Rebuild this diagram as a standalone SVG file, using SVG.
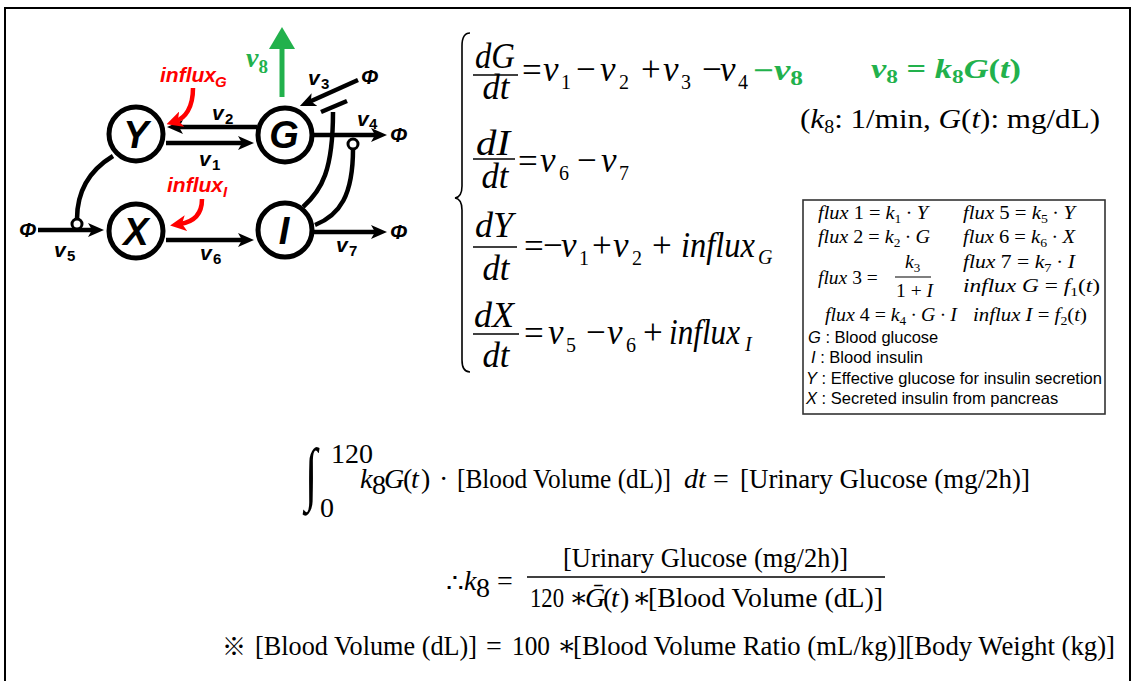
<svg xmlns="http://www.w3.org/2000/svg" width="1133" height="681" viewBox="0 0 1133 681">
<style>
.ln{stroke:#000;stroke-width:4.5;fill:none}
.thin{stroke:#000;stroke-width:1.6;fill:none}
.nd{fill:#fff;stroke:#000;stroke-width:5}
.nt{font-family:"Liberation Sans",Arial,sans-serif;font-weight:bold;font-style:italic;font-size:38px;text-anchor:middle}
.lb{font-family:"Liberation Sans",Arial,sans-serif;font-weight:bold;font-style:italic;font-size:21px}
.sb{font-family:"Liberation Sans",Arial,sans-serif;font-weight:bold;font-size:15px}
.red{fill:#ff0000}
.eq{font-family:"Liberation Serif","Times New Roman","DejaVu Serif",serif;font-size:35px}
.es{font-family:"Liberation Serif","Times New Roman",serif;font-size:20px}
.it{font-style:italic}
.gb{font-family:"Liberation Serif","Times New Roman",serif;font-weight:bold;fill:#22b14c}
.cm{font-family:"Liberation Serif","Times New Roman","DejaVu Serif",serif;font-size:28px}
.lg{font-family:"Liberation Serif","Times New Roman","DejaVu Serif",serif;font-size:19.5px}
.ls{font-family:"Liberation Sans",Arial,sans-serif;font-size:16.5px}
</style>
<defs>
<marker id="ah" viewBox="0 0 16 14" refX="6" refY="7" markerWidth="16" markerHeight="14" markerUnits="userSpaceOnUse" orient="auto"><path d="M0,0 L16,7 L0,14 L4,7 z" fill="#000"/></marker>
<marker id="ahr" viewBox="0 0 16 16" refX="6" refY="8" markerWidth="16" markerHeight="16" markerUnits="userSpaceOnUse" orient="auto"><path d="M0,0 L16,8 L0,16 L4,8 z" fill="#ff0000"/></marker>
<marker id="ahg" viewBox="0 0 22 26" refX="2" refY="13" markerWidth="22" markerHeight="26" markerUnits="userSpaceOnUse" orient="auto"><path d="M0,0 L22,13 L0,26 z" fill="#22b14c"/></marker>
</defs>
<rect x="5" y="8" width="1125" height="700" fill="#fff" stroke="#000" stroke-width="2"/>

<g id="connectors">
<path class="ln" d="M257,127 L177,127" marker-end="url(#ah)"/>
<path class="ln" d="M166,143 L244,143" marker-end="url(#ah)"/>
<path class="ln" d="M166,240 L244,240" marker-end="url(#ah)"/>
<path class="ln" d="M38,230 L94,230" marker-end="url(#ah)"/>
<path class="ln" d="M303,207 C322,190 333,170 333,112"/>
<path class="ln" d="M321,112 L347,101" stroke-width="5"/>
<path class="ln" d="M314,135 L377,135" marker-end="url(#ah)"/>
<path class="ln" d="M314,232 L377,232" marker-end="url(#ah)"/>
<path class="ln" d="M358,80 L309,102" marker-end="url(#ah)"/>
<path class="ln" d="M315,225 C340,215 353,195 353,149"/>
<circle cx="353" cy="144" r="5" fill="#fff" stroke="#000" stroke-width="3"/>
<path class="ln" d="M113,156 C90,170 77,190 77,219"/>
<circle cx="77" cy="224" r="5" fill="#fff" stroke="#000" stroke-width="3"/>
<path d="M282,97 L282,47" stroke="#22b14c" stroke-width="5" fill="none" marker-end="url(#ahg)"/>
<path d="M193,88 C193,108 185,118 176,121" stroke="#ff0000" stroke-width="4.5" fill="none" marker-end="url(#ahr)"/>
<path d="M202,199 C202,215 193,222 180,224" stroke="#ff0000" stroke-width="4.5" fill="none" marker-end="url(#ahr)"/>
</g>

<g id="node-Y"><circle class="nd" cx="136" cy="134" r="27"/><text class="nt" x="136" y="148">Y</text></g>
<g id="node-G"><circle class="nd" cx="285" cy="135" r="27"/><text class="nt" x="284" y="148">G</text></g>
<g id="node-X"><circle class="nd" cx="136" cy="231" r="27"/><text class="nt" x="136" y="245">X</text></g>
<g id="node-I"><circle class="nd" cx="285" cy="230" r="27"/><text class="nt" x="284" y="244">I</text></g>

<g id="labels">
<text class="lb" x="19" y="237">Φ</text>
<text class="lb" x="390" y="142">Φ</text>
<text class="lb" x="390" y="239">Φ</text>
<text class="lb" x="361" y="84">Φ</text>
<text class="lb" x="212" y="120">v</text><text class="sb" x="225" y="124">2</text>
<text class="lb" x="199" y="166">v</text><text class="sb" x="212" y="170">1</text>
<text class="lb" x="308" y="85">v</text><text class="sb" x="321" y="89">3</text>
<text class="lb" x="357" y="126">v</text><text class="sb" x="369" y="129">4</text>
<text class="lb" x="54" y="257">v</text><text class="sb" x="67" y="261">5</text>
<text class="lb" x="200" y="260">v</text><text class="sb" x="213" y="264">6</text>
<text class="lb" x="336" y="252">v</text><text class="sb" x="349" y="256">7</text>
<text class="gb" x="246" y="67" font-size="28"><tspan font-style="italic">v</tspan><tspan font-size="19" dy="6">8</tspan></text>
<text class="lb red" x="160" y="82" font-size="19.5">influx</text><text class="sb red" x="215" y="87" font-style="italic" font-size="14">G</text>
<text class="lb red" x="167" y="192" font-size="19">influx</text><text class="sb red" x="223" y="197" font-style="italic" font-size="14">I</text>
</g>

<g id="equations">
<path class="thin" d="M470,33 Q462,33 462,46 L462,186 Q462,197 455,198 Q462,199 462,210 L462,360 Q462,372 470,372"/>
<!-- eq1 -->
<text class="eq it" x="495" y="68" text-anchor="middle" textLength="40" lengthAdjust="spacingAndGlyphs">dG</text>
<line class="thin" x1="473" y1="75" x2="518" y2="75"/>
<text class="eq it" x="496" y="99" text-anchor="middle" textLength="27" lengthAdjust="spacingAndGlyphs">dt</text>
<text class="eq" x="522" y="82">=</text>
<text class="eq it" x="543" y="81">v</text><text class="es" x="561" y="89">1</text>
<text class="eq" x="576" y="81">−</text>
<text class="eq it" x="600" y="81">v</text><text class="es" x="619" y="89">2</text>
<text class="eq" x="641" y="81">+</text>
<text class="eq it" x="663" y="81">v</text><text class="es" x="681" y="89">3</text>
<text class="eq" x="702" y="81">−</text>
<text class="eq it" x="720" y="81">v</text><text class="es" x="738" y="89">4</text>
<text class="gb" x="753" y="80" font-size="29" textLength="50" lengthAdjust="spacingAndGlyphs">−<tspan font-style="italic">v</tspan><tspan font-size="20" dy="5">8</tspan></text>
<!-- eq2 -->
<text class="eq it" x="493" y="155" text-anchor="middle" textLength="34" lengthAdjust="spacingAndGlyphs">dI</text>
<line class="thin" x1="473" y1="159" x2="515" y2="159"/>
<text class="eq it" x="495" y="188" text-anchor="middle" textLength="27" lengthAdjust="spacingAndGlyphs">dt</text>
<text class="eq" x="518" y="173">=</text>
<text class="eq it" x="540" y="172">v</text><text class="es" x="559" y="180">6</text>
<text class="eq" x="577" y="172">−</text>
<text class="eq it" x="601" y="172">v</text><text class="es" x="619" y="180">7</text>
<!-- eq3 -->
<text class="eq it" x="494" y="237" text-anchor="middle" textLength="38" lengthAdjust="spacingAndGlyphs">dY</text>
<line class="thin" x1="473" y1="247" x2="517" y2="247"/>
<text class="eq it" x="496" y="280" text-anchor="middle" textLength="27" lengthAdjust="spacingAndGlyphs">dt</text>
<text class="eq" x="524" y="258">=</text>
<text class="eq" x="543" y="257">−</text>
<text class="eq it" x="561" y="257">v</text><text class="es" x="579" y="265">1</text>
<text class="eq" x="592" y="257">+</text>
<text class="eq it" x="613" y="257">v</text><text class="es" x="632" y="265">2</text>
<text class="eq" x="652" y="257">+</text>
<text class="eq it" x="681" y="257" textLength="74" lengthAdjust="spacingAndGlyphs">influx</text>
<text class="es it" x="758" y="264">G</text>
<!-- eq4 -->
<text class="eq it" x="494" y="327" text-anchor="middle" textLength="40" lengthAdjust="spacingAndGlyphs">dX</text>
<line class="thin" x1="473" y1="334" x2="519" y2="334"/>
<text class="eq it" x="496" y="367" text-anchor="middle" textLength="27" lengthAdjust="spacingAndGlyphs">dt</text>
<text class="eq" x="524" y="345">=</text>
<text class="eq it" x="548" y="344">v</text><text class="es" x="566" y="352">5</text>
<text class="eq" x="586" y="344">−</text>
<text class="eq it" x="607" y="344">v</text><text class="es" x="626" y="352">6</text>
<text class="eq" x="643" y="344">+</text>
<text class="eq it" x="669" y="344" textLength="71" lengthAdjust="spacingAndGlyphs">influx</text>
<text class="es it" x="745" y="351">I</text>
</g>

<g id="v8-def">
<text class="gb" x="871" y="78" font-size="28" textLength="150" lengthAdjust="spacingAndGlyphs"><tspan font-style="italic">v</tspan><tspan font-size="19" dy="5">8</tspan><tspan dy="-5"> = </tspan><tspan font-style="italic">k</tspan><tspan font-size="19" dy="5">8</tspan><tspan dy="-5" font-style="italic">G</tspan>(<tspan font-style="italic">t</tspan>)</text>
<text class="cm" x="800" y="128" font-size="28" textLength="300" lengthAdjust="spacingAndGlyphs">(<tspan class="it">k</tspan><tspan font-size="18" dy="5">8</tspan><tspan dy="-5">: 1/min, </tspan><tspan class="it">G</tspan>(<tspan class="it">t</tspan>): mg/dL)</text>
</g>

<g id="legend">
<rect x="803" y="200" width="302" height="214" fill="#fff" stroke="#333" stroke-width="1.6"/>
<text class="lg" x="818" y="219" textLength="110" lengthAdjust="spacingAndGlyphs"><tspan class="it">flux</tspan> 1 = <tspan class="it">k</tspan><tspan font-size="13" dy="4">1</tspan><tspan dy="-4"> ∙ </tspan><tspan class="it">Y</tspan></text>
<text class="lg" x="963" y="219" textLength="112" lengthAdjust="spacingAndGlyphs"><tspan class="it">flux</tspan> 5 = <tspan class="it">k</tspan><tspan font-size="13" dy="4">5</tspan><tspan dy="-4"> ∙ </tspan><tspan class="it">Y</tspan></text>
<text class="lg" x="818" y="243" textLength="112" lengthAdjust="spacingAndGlyphs"><tspan class="it">flux</tspan> 2 = <tspan class="it">k</tspan><tspan font-size="13" dy="4">2</tspan><tspan dy="-4"> ∙ </tspan><tspan class="it">G</tspan></text>
<text class="lg" x="963" y="243" textLength="112" lengthAdjust="spacingAndGlyphs"><tspan class="it">flux</tspan> 6 = <tspan class="it">k</tspan><tspan font-size="13" dy="4">6</tspan><tspan dy="-4"> ∙ </tspan><tspan class="it">X</tspan></text>
<text class="lg" x="818" y="284"><tspan class="it">flux</tspan> 3 =</text>
<text class="lg" x="905" y="268"><tspan class="it">k</tspan><tspan font-size="13" dy="4">3</tspan></text>
<line x1="895" y1="277" x2="931" y2="277" stroke="#000" stroke-width="1.2"/>
<text class="lg" x="896" y="297">1 + <tspan class="it">I</tspan></text>
<text class="lg" x="963" y="268" textLength="112" lengthAdjust="spacingAndGlyphs"><tspan class="it">flux</tspan> 7 = <tspan class="it">k</tspan><tspan font-size="13" dy="4">7</tspan><tspan dy="-4"> ∙ </tspan><tspan class="it">I</tspan></text>
<text class="lg" x="963" y="292" textLength="137" lengthAdjust="spacingAndGlyphs"><tspan class="it">influx G</tspan> = <tspan class="it">f</tspan><tspan font-size="13" dy="4">1</tspan><tspan dy="-4">(</tspan><tspan class="it">t</tspan>)</text>
<text class="lg" x="825" y="321" textLength="132" lengthAdjust="spacingAndGlyphs"><tspan class="it">flux</tspan> 4 = <tspan class="it">k</tspan><tspan font-size="13" dy="4">4</tspan><tspan dy="-4"> ∙ </tspan><tspan class="it">G</tspan> ∙ <tspan class="it">I</tspan></text>
<text class="lg" x="973" y="321" textLength="114" lengthAdjust="spacingAndGlyphs"><tspan class="it">influx I</tspan> = <tspan class="it">f</tspan><tspan font-size="13" dy="4">2</tspan><tspan dy="-4">(</tspan><tspan class="it">t</tspan>)</text>
<text class="ls" x="808" y="343"><tspan class="it">G</tspan> : Blood glucose</text>
<text class="ls" x="811" y="363"><tspan class="it"> I</tspan>  : Blood insulin</text>
<text class="ls" x="806" y="384"><tspan class="it">Y</tspan> : Effective glucose for insulin secretion</text>
<text class="ls" x="806" y="404"><tspan class="it">X</tspan> : Secreted insulin from pancreas</text>
</g>

<g id="formulas">
<text class="cm" x="0" y="0" font-size="64" transform="translate(305,497) scale(1.6,2.5)">∫</text>
<text class="cm" x="331" y="463" font-size="17">120</text>
<text class="cm" x="320" y="517" font-size="17">0</text>
<text class="cm it" x="360" y="488">k</text><text class="cm" x="372" y="494" font-size="19">8</text>
<text class="cm it" x="384" y="488">G</text><text class="cm" x="403" y="488">(</text><text class="cm it" x="411" y="488">t</text><text class="cm" x="421" y="488">)</text>
<text class="cm" x="439" y="488">·</text>
<text class="cm" x="457" y="488" textLength="214" lengthAdjust="spacingAndGlyphs">[Blood Volume (dL)]</text>
<text class="cm it" x="684" y="488">dt</text>
<text class="cm" x="713" y="488">=</text>
<text class="cm" x="740" y="488" textLength="290" lengthAdjust="spacingAndGlyphs">[Urinary Glucose (mg/2h)]</text>

<text class="cm" x="446" y="592" font-size="22">∴</text>
<text class="cm it" x="464" y="590">k</text><text class="cm" x="476" y="597" font-size="19">8</text>
<text class="cm" x="497" y="590">=</text>
<text class="cm" x="563" y="567" textLength="285" lengthAdjust="spacingAndGlyphs">[Urinary Glucose (mg/2h)]</text>
<line x1="527" y1="577" x2="885" y2="577" stroke="#000" stroke-width="1.6"/>
<text class="cm" x="530" y="607" textLength="34" lengthAdjust="spacingAndGlyphs">120</text>
<text class="cm" x="569" y="607">∗</text>
<text class="cm it" x="585" y="607">Ḡ</text><text class="cm" x="603" y="607">(</text><text class="cm it" x="611" y="607">t</text><text class="cm" x="620" y="607">)</text>
<text class="cm" x="632" y="607">∗</text>
<text class="cm" x="648" y="607" textLength="235" lengthAdjust="spacingAndGlyphs">[Blood Volume (dL)]</text>

<text x="222" y="655" font-family="'Noto Sans CJK JP','DejaVu Sans',sans-serif" font-size="24">※</text>
<text class="cm" x="255" y="655" textLength="222" lengthAdjust="spacingAndGlyphs">[Blood Volume (dL)]</text>
<text class="cm" x="486" y="655">=</text>
<text class="cm" x="512" y="655" textLength="38" lengthAdjust="spacingAndGlyphs">100</text>
<text class="cm" x="557" y="655">∗</text>
<text class="cm" x="573" y="655" textLength="542" lengthAdjust="spacingAndGlyphs">[Blood Volume Ratio (mL/kg)][Body Weight (kg)]</text>
</g>
</svg>
